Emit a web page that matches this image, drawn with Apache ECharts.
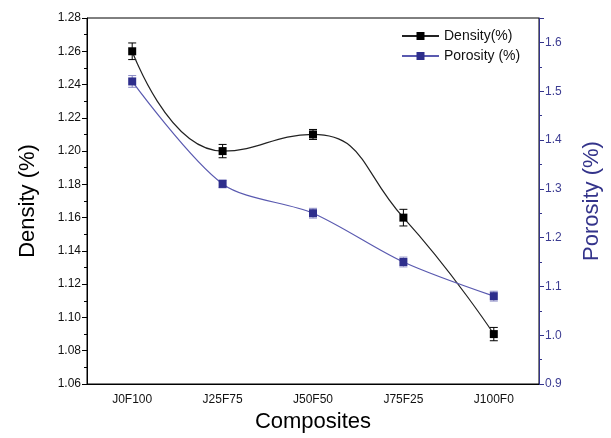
<!DOCTYPE html>
<html>
<head>
<meta charset="utf-8">
<script src="https://cdn.jsdelivr.net/npm/echarts@6/dist/echarts.min.js"></script>
<style>html,body{margin:0;padding:0;background:#fff}#c{width:611px;height:438px}</style>
</head>
<body>
<div id="c"></div>
<script>
var categories = ['J0F100', 'J25F75', 'J50F50', 'J75F25', 'J100F0'];
var density = [1.26, 1.20, 1.21, 1.16, 1.09];
var densityErr = [0.005, 0.004, 0.003, 0.005, 0.004];
var porosity = [1.52, 1.31, 1.25, 1.15, 1.08];
var porosityErr = [0.012, 0.008, 0.01, 0.01, 0.01];
var leftTicks = {min: 1.06, max: 1.28, interval: 0.02};
var rightTicks = {min: 0.9, max: 1.65, interval: 0.1};

var purple = '#33338a';
var font = 'Liberation Sans, Arial, sans-serif';

function errData(vals, errs) {
  return vals.map(function (v, i) { return [i, v - errs[i], v + errs[i]]; });
}
function errRender(color) {
  return function (params, api) {
    var lo = api.coord([api.value(0), api.value(1)]);
    var hi = api.coord([api.value(0), api.value(2)]);
    var w = 4;
    return {
      type: 'group',
      children: [
        {type: 'line', shape: {x1: lo[0], y1: lo[1], x2: hi[0], y2: hi[1]}, style: {stroke: color, lineWidth: 1}},
        {type: 'line', shape: {x1: lo[0] - w, y1: lo[1], x2: lo[0] + w, y2: lo[1]}, style: {stroke: color, lineWidth: 1}},
        {type: 'line', shape: {x1: hi[0] - w, y1: hi[1], x2: hi[0] + w, y2: hi[1]}, style: {stroke: color, lineWidth: 1}}
      ]
    };
  };
}

var chart = echarts.init(document.getElementById('c'));
chart.setOption({
  animation: false,
  textStyle: {fontFamily: font},
  grid: {left: 87, right: 66, top: 18, bottom: 52, show: true, borderColor: '#000', borderWidth: 1},
  legend: {
    orient: 'vertical', left: 396, top: 24, itemWidth: 37, itemHeight: 10, itemGap: 6,
    textStyle: {fontSize: 14, color: '#111', fontFamily: font},
    data: ['Density(%)', 'Porosity (%)']
  },
  xAxis: [{
    type: 'category', data: categories, boundaryGap: true,
    name: 'Composites', nameLocation: 'middle', nameGap: 27,
    nameTextStyle: {fontSize: 22, color: '#000', fontFamily: font},
    axisLine: {lineStyle: {color: '#000', width: 1}},
    axisTick: {alignWithLabel: true, length: 6, lineStyle: {color: '#000'}},
    axisLabel: {fontSize: 12, color: '#111', margin: 10}
  }, {
    type: 'category', data: categories, boundaryGap: true, position: 'bottom',
    axisLine: {show: false},
    axisTick: {length: 4, lineStyle: {color: '#000'}},
    axisLabel: {show: false}
  }],
  yAxis: [{
    type: 'value', min: leftTicks.min, max: leftTicks.max, interval: leftTicks.interval,
    name: 'Density (%)', nameLocation: 'middle', nameGap: 48, nameRotate: 90,
    nameTextStyle: {fontSize: 22, color: '#000', fontFamily: font},
    axisLine: {show: true, lineStyle: {color: '#000', width: 1}},
    axisTick: {show: true, length: 5, lineStyle: {color: '#000'}},
    minorTick: {show: true, splitNumber: 2, length: 3, lineStyle: {color: '#000'}},
    splitLine: {show: false},
    axisLabel: {fontSize: 12, color: '#111', margin: 6, formatter: function (v) { return v.toFixed(2); }}
  }, {
    type: 'value', min: rightTicks.min, max: rightTicks.max, interval: rightTicks.interval, position: 'right',
    name: 'Porosity (%)', nameLocation: 'middle', nameGap: 42, nameRotate: 90,
    nameTextStyle: {fontSize: 22, color: purple, fontFamily: font},
    axisLine: {show: true, lineStyle: {color: purple, width: 1}},
    axisTick: {show: true, length: 5, lineStyle: {color: purple}},
    minorTick: {show: true, splitNumber: 2, length: 3, lineStyle: {color: purple}},
    splitLine: {show: false},
    axisLabel: {fontSize: 12, color: '#3c3c92', margin: 6, showMaxLabel: false, formatter: function (v) { return v.toFixed(1); }}
  }],
  series: [{
    name: 'Density(%)', type: 'line', data: density, smooth: 0.5,
    symbol: 'rect', symbolSize: 8,
    lineStyle: {color: '#222', width: 1.2},
    itemStyle: {color: '#000'}, z: 3
  }, {
    name: 'Porosity (%)', type: 'line', data: porosity, yAxisIndex: 1, smooth: 0.3,
    symbol: 'rect', symbolSize: 8,
    lineStyle: {color: '#5a5ab0', width: 1.2},
    itemStyle: {color: '#2e2e8c'}, z: 3
  }, {
    type: 'custom', renderItem: errRender('#000'), data: errData(density, densityErr),
    encode: {x: 0, y: [1, 2]}, z: 2, silent: true
  }, {
    type: 'custom', renderItem: errRender('#8888c4'), data: errData(porosity, porosityErr),
    yAxisIndex: 1, encode: {x: 0, y: [1, 2]}, z: 2, silent: true
  }]
});
</script>
</body>
</html>
